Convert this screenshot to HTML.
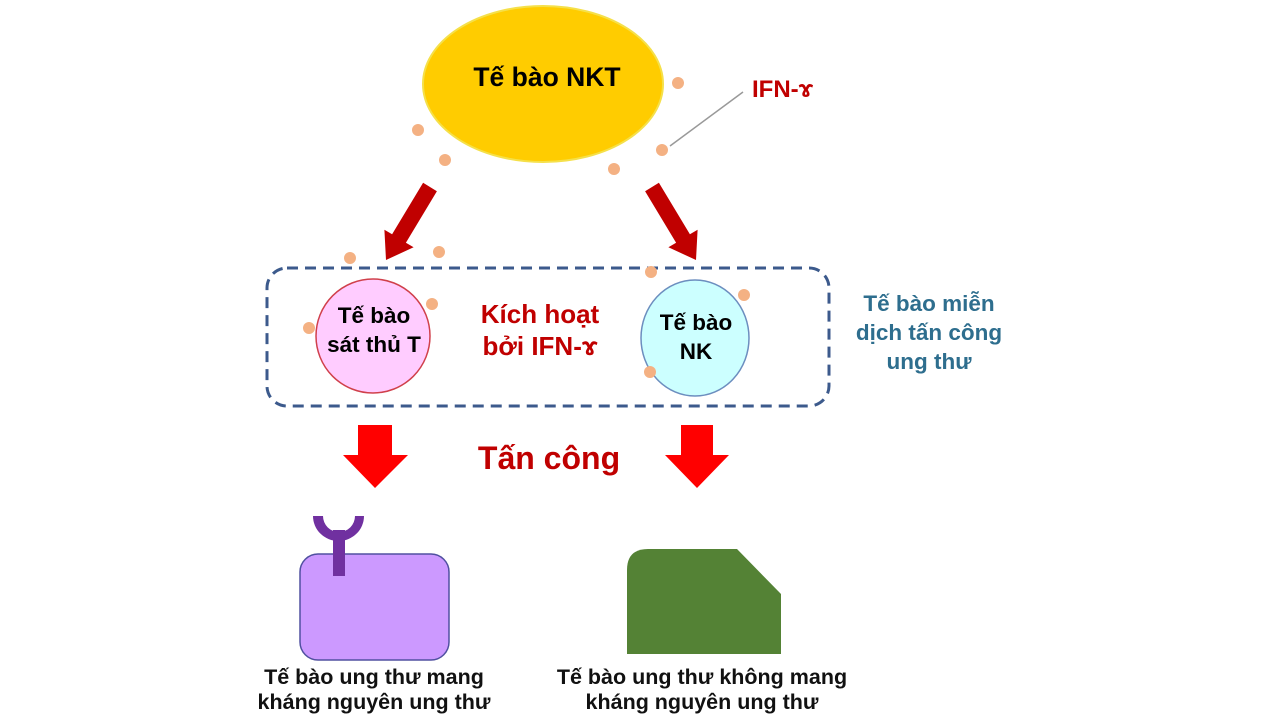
<!DOCTYPE html>
<html><head><meta charset="utf-8"><style>
html,body{margin:0;padding:0;background:#fff;}
svg{display:block;}
text{font-family:"Liberation Sans","DejaVu Sans",sans-serif;font-weight:bold;}
</style></head><body>
<svg width="1280" height="720" viewBox="0 0 1280 720" xmlns="http://www.w3.org/2000/svg">
<rect width="1280" height="720" fill="#fff"/>
<ellipse cx="543" cy="84" rx="120" ry="78" fill="#FFCC00" stroke="#F5E04A" stroke-width="2"/>
<text x="547" y="86" font-size="26.5" text-anchor="middle" fill="#000">Tế bào NKT</text>
<line x1="670" y1="146" x2="743" y2="92" stroke="#999" stroke-width="1.5"/>
<text x="752" y="97" font-size="24" fill="#C00000">IFN-ɤ</text>
<g fill="#C00000">
<polygon points="423.1,182.8 436.9,191.2 405.9,242.7 413.6,247.3 386,260 384.4,229.7 392.1,234.3"/>
<polygon points="658.9,182.8 645.1,191.2 676.1,242.7 668.4,247.3 696,260 697.6,229.7 689.9,234.3"/>
</g>
<rect x="267" y="268" width="562" height="138" rx="20" fill="none" stroke="#3C5A8C" stroke-width="3" stroke-dasharray="11,7"/>
<circle cx="373" cy="336" r="57" fill="#FFCCFF" stroke="#D0404B" stroke-width="1.5"/>
<text x="374" y="323" font-size="22.5" text-anchor="middle">Tế bào</text>
<text x="374" y="352" font-size="22.5" text-anchor="middle">sát thủ T</text>
<ellipse cx="695" cy="338" rx="54" ry="58" fill="#CCFFFF" stroke="#6C8EBF" stroke-width="1.5"/>
<text x="696" y="330" font-size="22.5" text-anchor="middle">Tế bào</text>
<text x="696" y="359" font-size="22.5" text-anchor="middle">NK</text>
<text x="540" y="323" font-size="26" text-anchor="middle" fill="#C00000">Kích hoạt</text>
<text x="540" y="355" font-size="26" text-anchor="middle" fill="#C00000">bởi IFN-ɤ</text>
<g font-size="22.5" text-anchor="middle" fill="#2E6E8E">
<text x="929" y="311">Tế bào miễn</text>
<text x="929" y="340">dịch tấn công</text>
<text x="929" y="369">ung thư</text>
</g>
<g fill="#F4B183">
<circle cx="418" cy="130" r="6"/><circle cx="445" cy="160" r="6"/><circle cx="614" cy="169" r="6"/>
<circle cx="662" cy="150" r="6"/><circle cx="678" cy="83" r="6"/><circle cx="350" cy="258" r="6"/>
<circle cx="439" cy="252" r="6"/><circle cx="651" cy="272" r="6"/><circle cx="432" cy="304" r="6"/>
<circle cx="309" cy="328" r="6"/><circle cx="744" cy="295" r="6"/><circle cx="650" cy="372" r="6"/>
</g>
<g fill="#FF0000">
<polygon points="358,425 392,425 392,455 408,455 375,488 343,455 358,455"/>
<polygon points="681,425 713,425 713,455 729,455 697,488 665,455 681,455"/>
</g>
<text x="549" y="469" font-size="32" text-anchor="middle" fill="#C00000">Tấn công</text>
<rect x="300" y="554" width="149" height="106" rx="18" fill="#CC99FF" stroke="#5050A0" stroke-width="1.5"/>
<g fill="#7030A0">
<rect x="333" y="530" width="12" height="46"/>
<path d="M313,516 L323,516 A16,16 0 0 0 355,516 L364,516 A25.5,25 0 0 1 313,516 Z"/>
</g>
<path d="M627,570 Q627,549 648,549 L737,549 L781,594 L781,654 L627,654 Z" fill="#548235"/>
<g font-size="21.5" text-anchor="middle" fill="#111">
<text x="374" y="684">Tế bào ung thư mang</text>
<text x="374" y="709">kháng nguyên ung thư</text>
<text x="702" y="684">Tế bào ung thư không mang</text>
<text x="702" y="709">kháng nguyên ung thư</text>
</g>
</svg>
</body></html>
